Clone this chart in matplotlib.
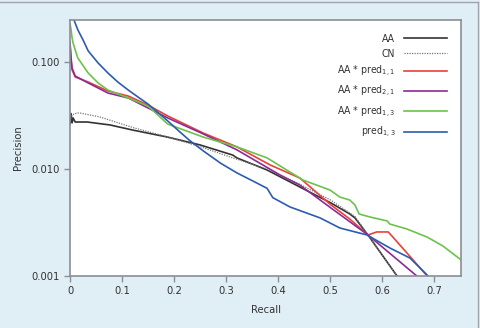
import matplotlib
matplotlib.use('Agg')
import matplotlib.pyplot as plt
from matplotlib.lines import Line2D

# recall / precision values
aa_x = [0.0, 0.002, 0.004, 0.006, 0.010, 0.033, 0.077, 0.121, 0.187, 0.25, 0.313, 0.321,
        0.379, 0.442, 0.502, 0.538, 0.548, 0.573, 0.629, 0.64]
aa_y = [0.026, 0.033, 0.027, 0.030, 0.0275, 0.0275, 0.0258, 0.0231, 0.0199, 0.0168, 0.0135,
        0.0127, 0.00979, 0.00679, 0.00481, 0.0038, 0.00349, 0.00242, 0.001, 0.00085]

cn_x = [0.0, 0.004, 0.013, 0.019, 0.058, 0.121, 0.187, 0.25, 0.313, 0.379, 0.442, 0.502,
        0.548, 0.573, 0.629, 0.64]
cn_y = [0.028, 0.032, 0.0334, 0.0334, 0.0306, 0.0244, 0.0200, 0.0162, 0.0127, 0.0100, 0.0072,
        0.0051, 0.0036, 0.00242, 0.001, 0.00085]

p11_x = [0.0, 0.002, 0.004, 0.010, 0.035, 0.073, 0.112, 0.15, 0.188, 0.256, 0.321, 0.385,
         0.442, 0.502, 0.538, 0.573, 0.590, 0.612, 0.621, 0.687, 0.70]
p11_y = [0.144, 0.104, 0.0841, 0.0725, 0.065, 0.0536, 0.0481, 0.0396, 0.0313, 0.0217, 0.0161,
         0.0109, 0.00824, 0.00461, 0.00341, 0.00242, 0.00258, 0.00258, 0.00231, 0.001, 0.00088]

p21_x = [0.0, 0.002, 0.004, 0.010, 0.035, 0.073, 0.112, 0.15, 0.188, 0.256, 0.321, 0.404,
         0.442, 0.502, 0.573, 0.667, 0.68]
p21_y = [0.154, 0.11, 0.0879, 0.074, 0.0637, 0.0513, 0.0461, 0.0372, 0.0300, 0.0213, 0.0151,
         0.00879, 0.00708, 0.00432, 0.00242, 0.001, 0.00085]

p13_x = [0.0, 0.002, 0.004, 0.006, 0.015, 0.035, 0.054, 0.073, 0.112, 0.15, 0.188, 0.256,
         0.321, 0.379, 0.448, 0.5, 0.519, 0.538, 0.548, 0.556, 0.577, 0.61, 0.615, 0.648,
         0.687, 0.717, 0.75, 0.76]
p13_y = [0.23, 0.2, 0.168, 0.15, 0.109, 0.0789, 0.0637, 0.0547, 0.0461, 0.0388, 0.0263,
         0.0199, 0.0161, 0.0127, 0.00789, 0.00636, 0.00547, 0.00513, 0.00461, 0.0038, 0.00356,
         0.00327, 0.00306, 0.00275, 0.00231, 0.00191, 0.00144, 0.0013]

pr_x = [0.0, 0.0077, 0.015, 0.025, 0.035, 0.054, 0.073, 0.092, 0.112, 0.131, 0.15, 0.169,
        0.188, 0.21, 0.23, 0.256, 0.29, 0.321, 0.35, 0.379, 0.39, 0.423, 0.481, 0.519, 0.571,
        0.615, 0.654, 0.687, 0.70]
pr_y = [0.32, 0.247, 0.2, 0.161, 0.127, 0.098, 0.0789, 0.065, 0.0547, 0.047, 0.0405, 0.0338,
        0.0281, 0.0225, 0.0185, 0.0148, 0.0113, 0.0092, 0.0078, 0.0066, 0.0054, 0.00442,
        0.00349, 0.00281, 0.00242, 0.00183, 0.00147, 0.00102, 0.00088]

bg = '#e0eef6'
grey = '#8a8f94'
plt.rcParams['font.family'] = ['DejaVu Sans']
plt.rcParams['font.stretch'] = 'condensed'

fig = plt.figure(figsize=(4.8, 3.28), dpi=100, facecolor=bg)
ax = fig.add_axes([70/480, 1-276/328, 391/480, 256/328])
ax.set_facecolor('white')

ax.plot(aa_x, aa_y, color='#333333', lw=1.2, label='AA')
ax.plot(cn_x, cn_y, color='#777777', lw=0.9, ls=(0, (1, 1)), label='CN')
ax.plot(p11_x, p11_y, color='#e8423a', lw=1.2, label='AA * pred$_{1,1}$')
ax.plot(p21_x, p21_y, color='#8e2a96', lw=1.2, label='AA * pred$_{2,1}$')
ax.plot(p13_x, p13_y, color='#6cc24a', lw=1.2, label='AA * pred$_{1,3}$')
ax.plot(pr_x, pr_y, color='#2b5cb0', lw=1.2, label='pred$_{1,3}$')

ax.set_yscale('log')
ax.set_xlim(0, 0.752)
ax.set_ylim(0.001, 0.247)
ax.set_yticks([0.001, 0.01, 0.1])
ax.set_yticklabels(['0.001', '0.010', '0.100'])
ax.minorticks_off()
ax.set_xticks([0, 0.1, 0.2, 0.3, 0.4, 0.5, 0.6, 0.7])
ax.set_xticklabels(['0', '0.1', '0.2', '0.3', '0.4', '0.5', '0.6', '0.7'])
ax.tick_params(direction='out', length=4, width=1, color=grey, labelsize=8, labelcolor='#333333')
for s in ax.spines.values():
    s.set_color(grey)
    s.set_linewidth(1.2)

ax.set_xlabel('Recall', fontsize=8, color='#333333', labelpad=6)
ax.set_ylabel('Precision', fontsize=8, color='#333333', labelpad=6)

ax.legend(loc='upper right', frameon=False, markerfirst=False, fontsize=7.5,
          handlelength=4.2, labelspacing=0.5, borderaxespad=0.9, labelcolor='#333333')

# thin grey frame at the top and right of the figure
fig.add_artist(Line2D([0, 478/480], [1-2/328, 1-2/328], color='#a0a4a8', lw=1))
fig.add_artist(Line2D([478/480, 478/480], [0, 1-2/328], color='#a0a4a8', lw=1))

fig.savefig('out.png', dpi=100, facecolor=bg)
